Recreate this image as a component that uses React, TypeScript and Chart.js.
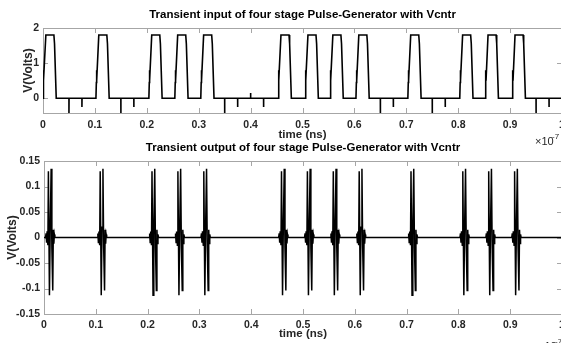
import React, { useEffect, useRef } from 'react';
import { Chart, registerables } from 'chart.js';

Chart.register(...registerables);

// ---------- data ----------
const X_TICKS = [0, 0.1, 0.2, 0.3, 0.4, 0.5, 0.6, 0.7, 0.8, 0.9, 1];
const X_TICK_LABELS = ['0', '0.1', '0.2', '0.3', '0.4', '0.5', '0.6', '0.7', '0.8', '0.9', '1'];
const INPUT_Y_TICKS = [0, 1, 2];
const INPUT_Y_LABELS = ['0', '1', '2'];
const OUTPUT_Y_TICKS = [-0.15, -0.1, -0.05, 0, 0.05, 0.1, 0.15];
const OUTPUT_Y_LABELS = ['-0.15', '-0.1', '-0.05', '0', '0.05', '0.1', '0.15'];

// input pulses: start times (x1e-7 s) and the pulse shape (time offset, volts)
const pulseStarts = [0.0, 0.102, 0.204, 0.254, 0.304, 0.453, 0.505, 0.553, 0.603, 0.703, 0.803, 0.852, 0.904];
const pulseDt = [0, 0.0008, 0.0012, 0.0016, 0.0055, 0.021, 0.0222, 0.0255];
const pulseV = [0, 0.45, 0.8, 0.5, 1.8, 1.8, 1.55, 0];

// glitches on the input when low
const spikeTimes = [0.05, 0.075, 0.15, 0.175, 0.35, 0.375, 0.4, 0.425, 0.65, 0.675, 0.75, 0.775, 0.95, 0.975];
const spikeValues = [-0.42, -0.25, -0.42, -0.25, -0.42, -0.25, 0.15, -0.25, -0.42, -0.25, -0.42, -0.25, -0.42, -0.25];

// output bursts: start times and the burst shape (time offset, volts)
const burstStarts = [0.0, 0.1, 0.2, 0.25, 0.3, 0.45, 0.5, 0.55, 0.6, 0.7, 0.8, 0.85, 0.9];
const burstDt = [0.003, 0.004, 0.005, 0.006, 0.0075, 0.0085, 0.0105, 0.012, 0.0138, 0.0152, 0.0169, 0.018, 0.019, 0.02, 0.021];
const burstV = [0, 0.008, -0.01, 0.012, -0.015, 0.13, -0.113, 0.02, 0.135, -0.02, -0.104, 0.015, -0.012, 0.006, 0];

const TITLE_TOP = 'Transient input of four stage Pulse-Generator with Vcntr';
const TITLE_BOTTOM = 'Transient output of four stage Pulse-Generator with Vcntr';
const X_TITLE = 'time (ns)';
const Y_TITLE = 'V(Volts)';

// ---------- helpers ----------
type P = { x: number; y: number };

function buildInput(): P[] {
  const pts: P[] = [];
  pulseStarts.forEach((s) => pulseDt.forEach((d, i) => pts.push({ x: s + d, y: pulseV[i] })));
  spikeTimes.forEach((t, i) => {
    pts.push({ x: t, y: 0 }, { x: t, y: spikeValues[i] }, { x: t + 0.0002, y: 0 });
  });
  pts.sort((a, b) => a.x - b.x);
  return [{ x: 0, y: 0 }, ...pts, { x: 1, y: 0 }];
}

function buildOutput(): P[] {
  const pts: P[] = [];
  burstStarts.forEach((s) => burstDt.forEach((d, i) => pts.push({ x: s + d, y: burstV[i] })));
  pts.sort((a, b) => a.x - b.x);
  return [{ x: 0, y: 0 }, ...pts, { x: 1, y: 0 }];
}

const FONT = '"Liberation Sans", Arial, Helvetica, sans-serif';
const TICK_COLOR = '#262626';
const BOX_COLOR = '#a6a6a6';

const boxPlugin = {
  id: 'matlabBox',
  beforeDatasetsDraw(chart: any) {
    const { ctx, chartArea: a, scales } = chart;
    const x = scales.x;
    const y = scales.y;
    ctx.save();
    ctx.strokeStyle = BOX_COLOR;
    ctx.lineWidth = 1;
    ctx.strokeRect(Math.round(a.left) + 0.5, Math.round(a.top) + 0.5, Math.round(a.width), Math.round(a.height));
    const tl = 5;
    ctx.beginPath();
    x.ticks.forEach((t: any) => {
      const px = Math.round(x.getPixelForValue(t.value)) + 0.5;
      ctx.moveTo(px, a.bottom);
      ctx.lineTo(px, a.bottom - tl);
      ctx.moveTo(px, a.top);
      ctx.lineTo(px, a.top + tl);
    });
    y.ticks.forEach((t: any) => {
      const py = Math.round(y.getPixelForValue(t.value)) + 0.5;
      ctx.moveTo(a.left, py);
      ctx.lineTo(a.left + tl, py);
      ctx.moveTo(a.right, py);
      ctx.lineTo(a.right - tl, py);
    });
    ctx.stroke();
    ctx.restore();
  },
  afterDraw(chart: any, _args: any, opts: any) {
    const { ctx } = chart;
    ctx.save();
    ctx.fillStyle = TICK_COLOR;
    ctx.textBaseline = 'middle';
    ctx.textAlign = 'left';
    ctx.font = `11px ${FONT}`;
    ctx.fillText('\u00d710', opts.ex, opts.ey);
    ctx.font = `8px ${FONT}`;
    ctx.fillText('-7', opts.ex + 17, opts.ey - 5);
    ctx.restore();
  },
};

function makeConfig(
  data: P[],
  title: string,
  yMin: number,
  yMax: number,
  yTicks: number[],
  yLabels: string[],
  L: any
): any {
  const tickFont = { family: FONT, size: 10.5, weight: 'bold' as const };
  const titleFont = { family: FONT, size: 11.5, weight: 'bold' as const };
  const axisTitleFont = { family: FONT, size: 11.5, weight: 'bold' as const };
  return {
    type: 'line',
    data: {
      datasets: [
        {
          data,
          borderColor: '#000000',
          borderWidth: L.lw,
          pointRadius: 0,
          tension: 0,
          fill: false,
          xAxisID: 'x',
          yAxisID: 'y',
        },
      ],
    },
    options: {
      responsive: false,
      animation: false,
      events: [],
      parsing: false,
      layout: { padding: { left: 0, right: L.padRight, top: L.padTop, bottom: L.padBottom } },
      plugins: {
        legend: { display: false },
        tooltip: { enabled: false },
        title: { display: false },
        matlabBox: { ex: L.ex, ey: L.ey },
      },
      scales: {
        x: {
          type: 'linear',
          position: 'bottom',
          min: 0,
          max: 1,
          afterBuildTicks: (s: any) => {
            s.ticks = X_TICKS.map((v) => ({ value: v }));
          },
          afterFit: (s: any) => {
            s.height = L.xHeight;
          },
          ticks: {
            autoSkip: false,
            maxRotation: 0,
            padding: L.xTickPad,
            color: TICK_COLOR,
            font: tickFont,
            callback: (_v: any, i: number) => X_TICK_LABELS[i],
          },
          grid: { display: false, drawTicks: false },
          border: { display: false },
          title: {
            display: true,
            text: X_TITLE,
            color: TICK_COLOR,
            font: axisTitleFont,
            padding: { top: 0, bottom: L.xTitlePad },
          },
        },
        xTop: {
          type: 'linear',
          position: 'top',
          min: 0,
          max: 1,
          afterFit: (s: any) => {
            s.height = L.topHeight;
          },
          ticks: { display: false },
          grid: { display: false, drawTicks: false },
          border: { display: false },
          title: {
            display: true,
            text: title,
            color: '#000000',
            font: titleFont,
            padding: { top: L.titlePad, bottom: 0 },
          },
        },
        y: {
          type: 'linear',
          min: yMin,
          max: yMax,
          afterBuildTicks: (s: any) => {
            s.ticks = yTicks.map((v) => ({ value: v }));
          },
          afterFit: (s: any) => {
            s.width = L.yWidth;
          },
          ticks: {
            autoSkip: false,
            padding: 4,
            color: TICK_COLOR,
            font: tickFont,
            callback: (_v: any, i: number) => yLabels[i],
          },
          grid: { display: false, drawTicks: false },
          border: { display: false },
          title: {
            display: true,
            text: Y_TITLE,
            color: TICK_COLOR,
            font: { family: FONT, size: 12, weight: 'bold' as const },
            padding: { top: L.yTitlePad, bottom: 0 },
          },
        },
      },
    },
    plugins: [boxPlugin],
  };
}

const W = 580;
const H = 343;

export default function App() {
  const topRef = useRef<HTMLCanvasElement | null>(null);
  const botRef = useRef<HTMLCanvasElement | null>(null);

  useEffect(() => {
    const topLayout = {
      lw: 1.6,
      padRight: W - 562,
      padTop: 0,
      padBottom: H - 145,
      topHeight: 28,
      titlePad: 8.1,
      xHeight: 32,
      xTickPad: 5.4,
      xTitlePad: 3.1,
      yWidth: 43,
      yTitlePad: 21.4,
      ex: 535,
      ey: 142,
    };
    const botLayout = {
      lw: 1.5,
      padRight: W - 562,
      padTop: 135,
      padBottom: 0,
      topHeight: 26,
      titlePad: 6.1,
      xHeight: 29,
      xTickPad: 4.4,
      xTitlePad: 2.1,
      yWidth: 44,
      yTitlePad: 5.4,
      ex: 538,
      ey: 347,
    };
    const c1 = new Chart(
      topRef.current as HTMLCanvasElement,
      makeConfig(buildInput(), TITLE_TOP, -0.42, 2, INPUT_Y_TICKS, INPUT_Y_LABELS, topLayout)
    );
    const c2 = new Chart(
      botRef.current as HTMLCanvasElement,
      makeConfig(buildOutput(), TITLE_BOTTOM, -0.15, 0.15, OUTPUT_Y_TICKS, OUTPUT_Y_LABELS, botLayout)
    );
    return () => {
      c1.destroy();
      c2.destroy();
    };
  }, []);

  const cStyle: React.CSSProperties = { position: 'absolute', left: 0, top: 0, width: W, height: H };
  return (
    <div
      style={{
        position: 'fixed',
        left: 0,
        top: 0,
        width: 561,
        height: 343,
        overflow: 'hidden',
        background: '#ffffff',
      }}
    >
      <canvas ref={topRef} width={W} height={H} style={cStyle} />
      <canvas ref={botRef} width={W} height={H} style={cStyle} />
    </div>
  );
}
